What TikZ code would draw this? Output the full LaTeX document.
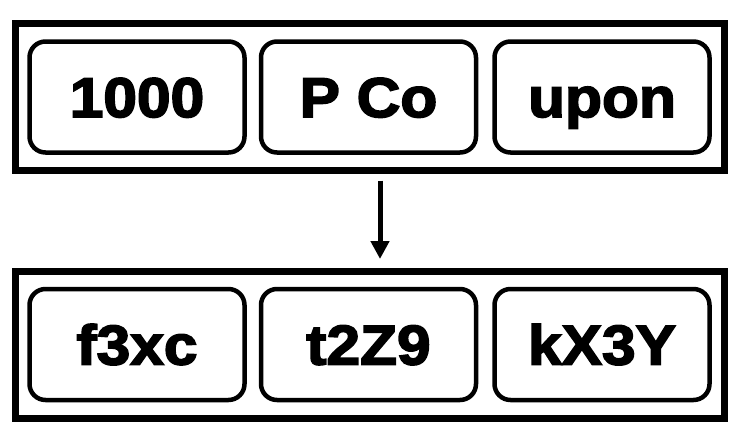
\documentclass[tikz,border=0pt]{standalone}
\usepackage{fontspec}
\newfontfamily\heavyfont[FakeBold=3, FakeStretch=1.08]{Liberation Sans Bold}
\usetikzlibrary{arrows.meta, positioning}

\tikzset{
  frame/.style={draw, line width=7pt, minimum width=709pt, minimum height=147pt, inner sep=0pt},
  token/.style={draw, line width=4.5pt, rounded corners=16pt, minimum width=215pt,
    minimum height=111pt, inner sep=0pt, text height=40pt, text depth=0pt,
    font=\heavyfont\fontsize{56}{60}\selectfont},
}

\begin{document}
\begin{tikzpicture}[x=1pt, y=-1pt]
			\useasboundingbox (0,0) rectangle (746,445);
			\node[frame] (upper) at (370,96.5) {};
			\node[frame] (lower) at (370,345) {};

			\node[token] (tokA) at (137,97) {1000};
			\node[token] (tokB) at (368.5,97) {P Co};
			\node[token] (tokC) at (602,97) {upon};

			\node[token] (tokD) at (137,344.5) {f3xc};
			\node[token] (tokE) at (368.5,344.5) {t2Z9};
			\node[token] (tokF) at (602,344.5) {kX3Y};

			\draw[-{Triangle[width=18pt, length=18pt]}, line width=5pt, shorten <=7pt, shorten >=9pt]
			([xshift=10pt]upper.south) -- ([xshift=10pt]lower.north);
		\end{tikzpicture}
\end{document}
